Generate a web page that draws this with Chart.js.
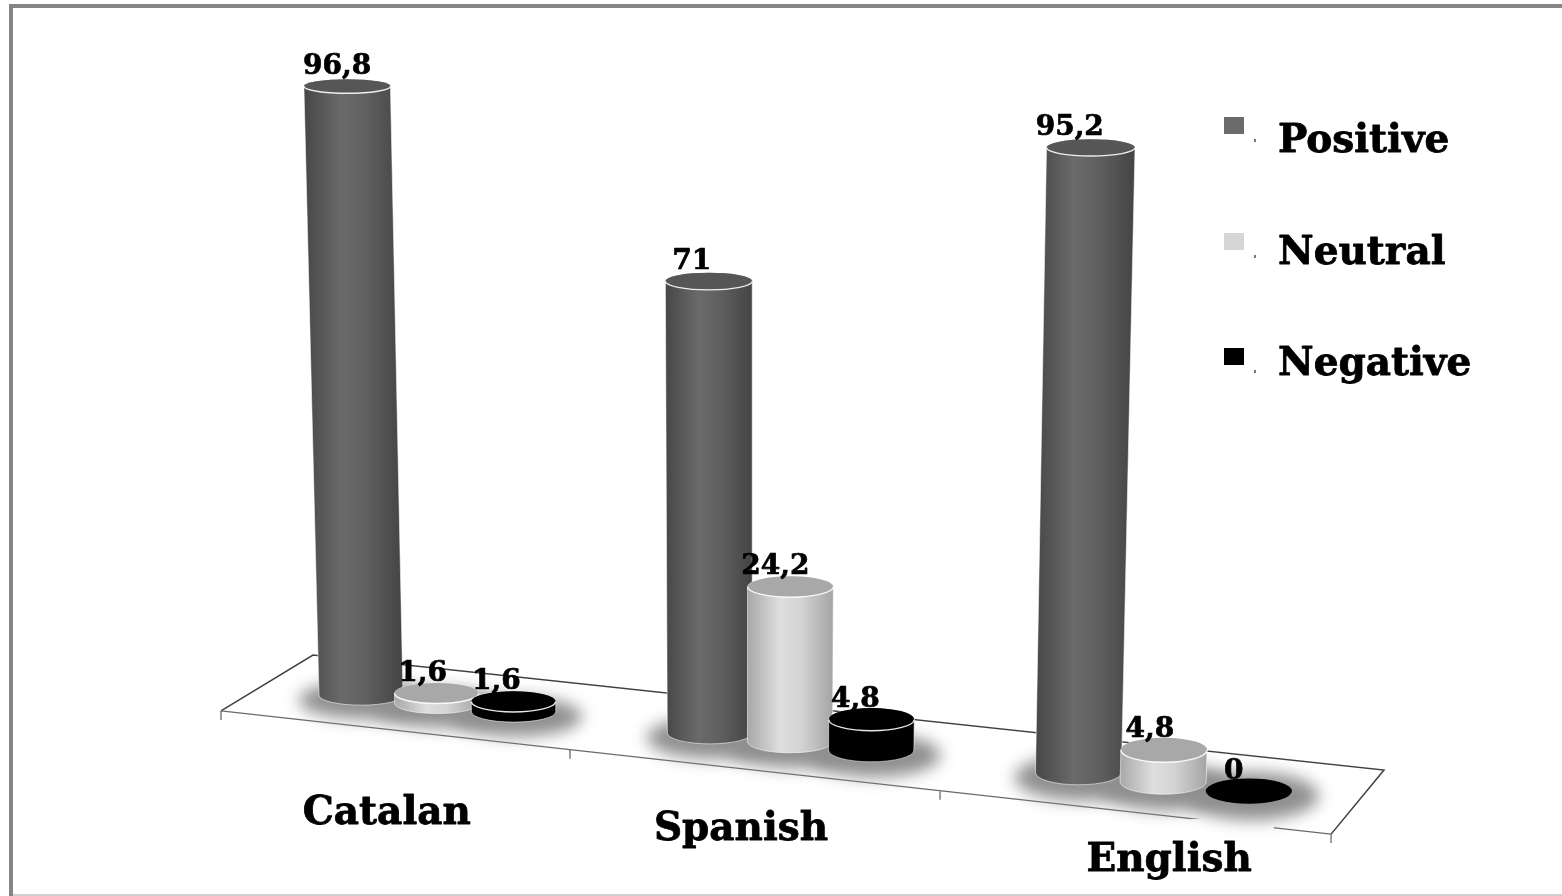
<!DOCTYPE html>
<html>
<head>
<meta charset="utf-8">
<title>Sentiment by language</title>
<script src="https://cdn.jsdelivr.net/npm/chart.js@4"></script>
<style>
  html, body { margin: 0; padding: 0; background: #fff; }
  canvas { display: block; }
</style>
</head>
<body>
<canvas id="chart" width="1562" height="896"></canvas>
<script>
// Percentage of responses per language and sentiment
const languages = ['Catalan', 'Spanish', 'English'];
const seriesNames = ['Positive', 'Neutral', 'Negative'];
const positive = [96.8, 71, 95.2];
const neutral = [1.6, 24.2, 4.8];
const negative = [1.6, 4.8, 0];

const legendColors = ['#6b6b6b', '#d6d6d6', '#000000'];
const capColors = ['#565656', '#a8a8a8', '#000000'];
const bodyStops = [
  ['#474747', '#6a6a6a', '#606060', '#444444'],
  ['#a8a8a8', '#dedede', '#d4d4d4', '#a4a4a4'],
  ['#000000', '#000000', '#000000', '#000000']
];

const SERIF = '"DejaVu Serif", serif';

// Oblique view of the chart plane: bars sit on a tilted floor and lean
// slightly outwards towards the top.
const view = {
  widen: 7.5e-5,
  squeeze: 0.0041,
  floorSlope: 0.108,
  vanishX: 745,
  lean: 0.036
};

const spreadX = u => u * (1 - view.squeeze) + view.widen * u * u;

function project(chart, bar) {
  const area = chart.chartArea;
  const cx = (area.left + area.right) / 2;
  const u = bar.x - cx;
  const bx = cx + spreadX(u);
  const by = area.bottom + view.floorSlope * (bx - cx);
  const gain = 1.0022 + 7.21e-5 * u + 8e-8 * u * u;
  const h = (bar.base - bar.y) * gain;
  const t = h / 610;
  const rxb = (bar.width / 2) * 1.05 * (1 + 3e-5 * u);
  const ryb = 11.3 + 0.003 * (bx - cx);
  return {
    bx, by, h, rxb, ryb,
    tx: bx + (bx - view.vanishX) * view.lean * t,
    ty: by - h,
    rxt: rxb * (1 + 0.03 * t),
    ryt: ryb * (1 - 0.3 * t)
  };
}

function drawFrame(ctx) {
  ctx.fillStyle = '#ffffff';
  ctx.fillRect(0, 0, 1562, 896);
  ctx.fillStyle = '#858585';
  ctx.fillRect(9, 4, 1553, 4);
  ctx.fillRect(9, 4, 4, 892);
  ctx.fillStyle = '#d0d0d0';
  ctx.fillRect(13, 894, 1549, 2);
}

function drawFloor(ctx, chart) {
  const xs = chart.scales.x;
  const cx = (xs.left + xs.right) / 2;
  const step = (xs.right - xs.left) / languages.length;
  const frontX = u => cx - 37.6 + 1.0147 * u + 7.9e-5 * u * u;
  const frontY = x => 711 + 0.111 * (x - 222);
  const edgeL = frontX(xs.left - cx);
  const edgeR = frontX(xs.right - cx);

  ctx.lineWidth = 1.5;
  ctx.strokeStyle = '#404040';
  ctx.beginPath();
  ctx.moveTo(edgeL, frontY(edgeL));
  ctx.lineTo(313, 655);
  ctx.lineTo(1384, 770);
  ctx.lineTo(edgeR, frontY(edgeR));
  ctx.stroke();

  ctx.lineWidth = 1.3;
  ctx.strokeStyle = '#6a6a6a';
  ctx.beginPath();
  ctx.moveTo(edgeL, frontY(edgeL));
  ctx.lineTo(edgeR, frontY(edgeR));
  for (let i = 0; i <= languages.length; i++) {
    const x = frontX(xs.left - cx + i * step);
    ctx.moveTo(x, frontY(x));
    ctx.lineTo(x, frontY(x) + 9);
  }
  ctx.stroke();
}

function drawShadow(ctx, p) {
  ctx.save();
  ctx.filter = 'blur(8px)';
  ctx.fillStyle = '#8f8f8f';
  ctx.beginPath();
  ctx.ellipse(p.bx + 3, p.by + 5, p.rxb * 1.55, p.ryb * 1.9, 0, 0, Math.PI * 2);
  ctx.fill();
  ctx.restore();
}

function drawCylinder(ctx, p, series) {
  if (p.h > 0.5) {
    const stops = bodyStops[series];
    const left = Math.min(p.bx - p.rxb, p.tx - p.rxt);
    const right = Math.max(p.bx + p.rxb, p.tx + p.rxt);
    const grad = ctx.createLinearGradient(left, 0, right, 0);
    grad.addColorStop(0, stops[0]);
    grad.addColorStop(0.38, stops[1]);
    grad.addColorStop(0.62, stops[2]);
    grad.addColorStop(1, stops[3]);
    ctx.beginPath();
    ctx.moveTo(p.bx - p.rxb, p.by);
    ctx.ellipse(p.bx, p.by, p.rxb, p.ryb, 0, Math.PI, 0, true);
    ctx.lineTo(p.tx + p.rxt, p.ty);
    ctx.ellipse(p.tx, p.ty, p.rxt, p.ryt, 0, 0, Math.PI, true);
    ctx.closePath();
    ctx.fillStyle = grad;
    ctx.fill();
    ctx.lineWidth = 1;
    ctx.strokeStyle = 'rgba(255,255,255,0.55)';
    ctx.stroke();
  }
  ctx.beginPath();
  ctx.ellipse(p.tx, p.ty, p.rxt, p.ryt, 0, 0, Math.PI * 2);
  ctx.fillStyle = capColors[series];
  ctx.fill();
  if (p.h > 0.5) {
    ctx.beginPath();
    ctx.ellipse(p.tx, p.ty, p.rxt, p.ryt, 0, Math.PI, 0, true);
    ctx.lineWidth = 1.4;
    ctx.strokeStyle = 'rgba(255,255,255,0.9)';
    ctx.stroke();
  }
}

const formatValue = v => String(v).replace('.', ',');

// Heavy text: the fill plus a hairline stroke in the same colour
function heavyText(ctx, text, x, y, weight) {
  ctx.lineJoin = 'round';
  ctx.lineWidth = weight;
  ctx.strokeStyle = '#000000';
  ctx.strokeText(text, x, y);
  ctx.fillStyle = '#000000';
  ctx.fillText(text, x, y);
}

function drawValueLabel(ctx, p, value, nudge) {
  ctx.font = 'bold 28px ' + SERIF;
  ctx.textAlign = 'center';
  ctx.textBaseline = 'alphabetic';
  heavyText(ctx, formatValue(value), p.tx + nudge, p.ty - 12.5, 0.7);
}

function drawCategoryLabels(ctx, chart) {
  const xs = chart.scales.x;
  const { centerOffset, baseline } = chart.options.plugins.cylinderScene;
  const cx = (xs.left + xs.right) / 2;
  ctx.font = 'bold 39px ' + SERIF;
  ctx.textAlign = 'center';
  ctx.textBaseline = 'alphabetic';
  languages.forEach((name, i) => {
    const x = cx + spreadX(xs.getPixelForTick(i) - cx) + centerOffset[i];
    const w = ctx.measureText(name).width;
    // Each label keeps a white plate behind it, which also hides the floor edge
    ctx.fillStyle = '#ffffff';
    ctx.fillRect(x - w / 2 + 2, baseline[i] - 52, w + 20, 68);
    heavyText(ctx, name, x, baseline[i], 0.8);
  });
}

function drawKey(ctx, chart) {
  const { keyBoxTop, keyBaseline } = chart.options.plugins.cylinderScene;
  ctx.font = 'bold 39px ' + SERIF;
  ctx.textAlign = 'left';
  ctx.textBaseline = 'alphabetic';
  chart.data.datasets.forEach((ds, i) => {
    ctx.fillStyle = ds.backgroundColor;
    ctx.fillRect(1224, keyBoxTop[i], 20, 17);
    // small tick left over from the swatch's 3D depth
    ctx.fillStyle = '#777777';
    ctx.fillRect(1254, keyBoxTop[i] + 22, 2, 3);
    heavyText(ctx, ds.label, 1278, keyBaseline[i], 0.8);
  });
}

const cylinderScene = {
  id: 'cylinderScene',
  beforeDraw(chart) {
    drawFrame(chart.ctx);
    drawFloor(chart.ctx, chart);
  },
  // The bar elements supply the geometry; they are rendered as cylinders here
  beforeDatasetsDraw(chart) {
    const ctx = chart.ctx;
    const { labelNudge } = chart.options.plugins.cylinderScene;
    const items = [];
    languages.forEach((_, c) => {
      chart.data.datasets.forEach((ds, s) => {
        const bar = chart.getDatasetMeta(s).data[c];
        items.push({ p: project(chart, bar), s, c, value: ds.data[c] });
      });
    });
    drawCategoryLabels(ctx, chart);
    items.forEach(it => drawShadow(ctx, it.p));
    items.forEach(it => drawCylinder(ctx, it.p, it.s));
    items.forEach(it => drawValueLabel(ctx, it.p, it.value, labelNudge[it.s][it.c]));
    drawKey(ctx, chart);
    return false;
  }
};

new Chart(document.getElementById('chart'), {
  type: 'bar',
  data: {
    labels: languages,
    datasets: [
      { label: seriesNames[0], data: positive, backgroundColor: legendColors[0] },
      { label: seriesNames[1], data: neutral, backgroundColor: legendColors[1] },
      { label: seriesNames[2], data: negative, backgroundColor: legendColors[2] }
    ]
  },
  plugins: [cylinderScene],
  options: {
    responsive: false,
    animation: false,
    layout: { padding: { left: 243, right: 225, top: 103.5, bottom: 154.5 } },
    datasets: { bar: { barPercentage: 1, categoryPercentage: 0.667 } },
    scales: {
      x: { display: false },
      y: { display: false, min: 0, max: 100 }
    },
    plugins: {
      legend: { display: false },
      tooltip: { enabled: false },
      cylinderScene: {
        centerOffset: [-50, -49, 6],
        baseline: [824, 840, 871],
        keyBoxTop: [117, 233, 348],
        keyBaseline: [152, 264, 375],
        labelNudge: [[-10, -17, -21], [-14, -15, -14], [-17, -16, -15]]
      }
    }
  }
});
</script>
</body>
</html>
